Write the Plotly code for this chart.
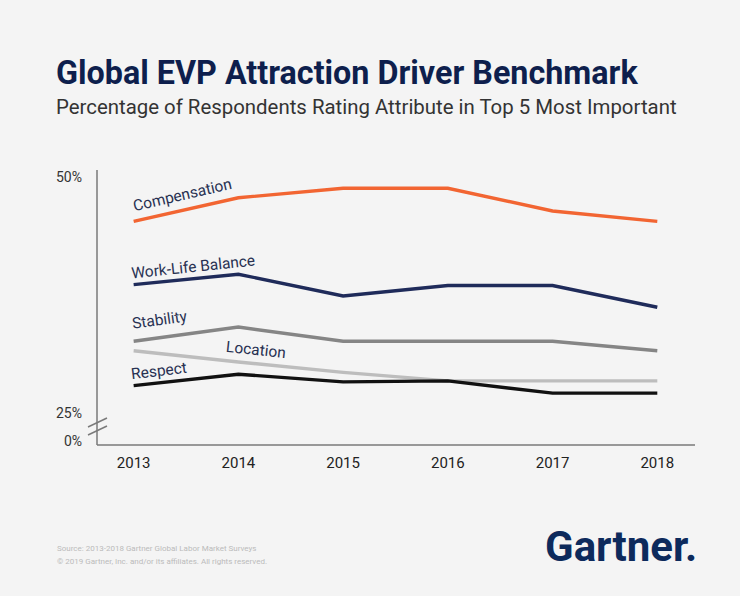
import plotly.graph_objects as go

years = [2013, 2014, 2015, 2016, 2017, 2018]
compensation = [45.3, 47.8, 48.8, 48.8, 46.4, 45.3]
work_life = [38.6, 39.7, 37.4, 38.5, 38.5, 36.2]
stability = [32.6, 34.1, 32.6, 32.6, 32.6, 31.6]
location = [31.6, 30.4, 29.3, 28.4, 28.4, 28.4]
respect = [27.9, 29.1, 28.3, 28.4, 27.1, 27.1]

series = [
    ("Compensation", compensation, "#f26532"),
    ("Work-Life Balance", work_life, "#1f2b5a"),
    ("Stability", stability, "#858585"),
    ("Location", location, "#bdbdbd"),
    ("Respect", respect, "#111111"),
]

# tick labels (broken axis: 0% drawn just below 25%)
tick_vals = [22.05, 25, 50]
tick_text = ["0%", "25%", "50%"]

W, H = 740, 596
L, R, T, B = 97, 45, 170, 151
BG = "#f4f4f4"

def px(x):
    return (x - L) / (W - L - R)

def py(y):
    return (H - B - y) / (H - T - B)

fig = go.Figure()
for name, vals, col in series:
    fig.add_trace(go.Scatter(x=years, y=vals, mode="lines", name=name,
                             line=dict(color=col, width=3.4), hoverinfo="skip"))

label_font = dict(family="Roboto, Arial", size=15.5, color="#283152")
labels = [
    ("Compensation", 2013.47, 48.1, -13),
    ("Work-Life Balance", 2013.57, 40.5, -6),
    ("Stability", 2013.25, 34.8, -8),
    ("Location", 2014.17, 31.7, 6),
    ("Respect", 2013.24, 29.45, -7),
]
annotations = []
for text, x, y, ang in labels:
    annotations.append(dict(x=x, y=y, xref="x", yref="y", text=text, showarrow=False,
                            textangle=ang, font=label_font, xanchor="center", yanchor="middle"))

annotations += [
    dict(x=px(54), y=py(73), xref="paper", yref="paper", xanchor="left", yanchor="middle",
         text="<b>Global EVP Attraction Driver Benchmark</b>", showarrow=False,
         font=dict(family="Roboto, Arial", size=32.3, color="#0e1f4d")),
    dict(x=px(54), y=py(107), xref="paper", yref="paper", xanchor="left", yanchor="middle",
         text="Percentage of Respondents Rating Attribute in Top 5 Most Important", showarrow=False,
         font=dict(family="Roboto, Arial", size=20.4, color="#333333")),
    dict(x=px(55), y=py(548), xref="paper", yref="paper", xanchor="left", yanchor="middle",
         text="Source: 2013-2018 Gartner Global Labor Market Surveys", showarrow=False,
         font=dict(family="Roboto, Arial", size=8, color="#bbbbbb")),
    dict(x=px(55), y=py(561), xref="paper", yref="paper", xanchor="left", yanchor="middle",
         text="© 2019 Gartner, Inc. and/or its affiliates. All rights reserved.", showarrow=False,
         font=dict(family="Roboto, Arial", size=8, color="#bbbbbb")),
    dict(x=px(699), y=py(546), xref="paper", yref="paper", xanchor="right", yanchor="middle",
         text="<b>Gartner.</b>", showarrow=False,
         font=dict(family="Roboto, Arial", size=42, color="#0d2a5c")),
]

axis_col = "#7a7a7a"
shapes = [
    dict(type="line", xref="paper", yref="paper", x0=0, x1=0, y0=0, y1=1,
         line=dict(color=axis_col, width=1.5)),
    dict(type="line", xref="paper", yref="paper", x0=0, x1=1, y0=0, y1=0,
         line=dict(color=axis_col, width=1.5)),
    dict(type="line", xref="paper", yref="paper", x0=px(88), x1=px(107), y0=py(427), y1=py(418),
         line=dict(color=axis_col, width=1.5)),
    dict(type="line", xref="paper", yref="paper", x0=px(88), x1=px(107), y0=py(435), y1=py(426),
         line=dict(color=axis_col, width=1.5)),
]

fig.update_layout(
    width=W, height=H,
    margin=dict(l=L, r=R, t=T, b=B),
    paper_bgcolor=BG, plot_bgcolor=BG,
    showlegend=False,
    annotations=annotations,
    shapes=shapes,
    xaxis=dict(range=[2012.65, 2018.36], tickvals=years, ticktext=[str(y) for y in years],
               showgrid=False, zeroline=False, showline=False, ticks="",
               tickfont=dict(family="Roboto, Arial", size=15, color="#222222"), ticklabelstandoff=7),
    yaxis=dict(range=[21.61, 50.74], tickvals=tick_vals, ticktext=tick_text,
               showgrid=False, zeroline=False, showline=False, ticks="",
               tickfont=dict(family="Roboto, Arial", size=14, color="#333333"), ticklabelstandoff=14),
)

fig.write_html("out.html")
